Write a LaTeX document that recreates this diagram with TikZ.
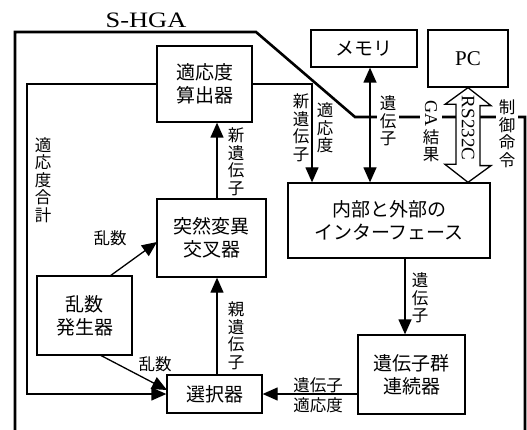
\documentclass[tikz,border=0pt]{standalone}
\usepackage{fontspec}
\setmainfont{Liberation Serif}
\newfontfamily\jp{Noto Sans CJK JP}
\usetikzlibrary{arrows.meta,calc}
\begin{document}
\begin{tikzpicture}[x=1pt,y=-1pt,
  box/.style={draw,line width=1.3pt,inner sep=0pt,align=center,font=\jp\fontsize{19}{23}\selectfont},
  lbl/.style={font=\jp\fontsize{16.5}{17.5}\selectfont,align=center,inner sep=1pt},
  wlbl/.style={lbl,fill=white,inner xsep=3pt,inner ysep=1pt},
  arr/.style={line width=1.3pt,-{Triangle[length=15pt,width=13pt]}},
  darr/.style={line width=1.3pt,{Triangle[length=15pt,width=13pt]}-{Triangle[length=15pt,width=13pt]}},
  border/.style={line width=2.6pt,line join=miter}]
\useasboundingbox[fill=white] (0,0) rectangle (527,430);

% outer border
\coordinate (b1) at (15,430);
\coordinate (b2) at (15,32);
\coordinate (b3) at (256,32);
\coordinate (b4) at (355,117);
\coordinate (b5) at (525,117);
\coordinate (b6) at (525,430);
\draw[border] (b1) -- (b2) -- (b3) -- (b4) -- (b5) -- (b6);
\node[font=\fontsize{22}{24}\selectfont] (title) at (146,20) {\scalebox{1.2}[1]{S-HGA}};

% boxes
\node[box,minimum width=95pt,minimum height=76pt] (fit) at (204.5,84) {適応度\\算出器};
\node[box,minimum width=106pt,minimum height=37pt] (mem) at (364,48.5) {メモリ};
\node[box,minimum width=80pt,minimum height=57pt,font=\fontsize{21}{23}\selectfont] (pc) at (468,58.5) {PC};
\node[box,minimum width=202pt,minimum height=75pt] (intf) at (389,220.5) {内部と外部の\\インターフェース};
\node[box,minimum width=109pt,minimum height=78pt] (mut) at (211.5,238) {突然変異\\交叉器};
\node[box,minimum width=95pt,minimum height=79pt] (rng) at (84.5,315.5) {乱数\\発生器};
\node[box,minimum width=95pt,minimum height=38pt] (sel) at (214.5,394) {選択器};
\node[box,minimum width=107pt,minimum height=79pt] (cat) at (411.5,374.5) {遺伝子群\\連続器};

% helper coordinates
\coordinate (xa) at (217,0);
\coordinate (xm) at (370,0);
\coordinate (xi) at (405,0);
\coordinate (xr) at (312,0);
\coordinate (xl) at (27,0);

% labels on the border line
\node[wlbl] (lgene1) at (388,121) {遺\\伝\\子};
\node[wlbl,inner xsep=3pt] (lga) at (431,131) {\rotatebox{-90}{\fontspec{Liberation Serif}\fontsize{18}{20}\selectfont GA}\\[2pt]結\\果};
\node[wlbl,inner xsep=2.5pt] (lctl) at (507,134) {制\\御\\命\\令};

% connectors
\draw[arr] (mut.north -| xa) -- (fit.south -| xa);
\draw[arr] (sel.north -| xa) -- (mut.south -| xa);
\draw[arr] (fit.east) -- (fit.east -| xr) -- (intf.north -| xr);
\draw[darr] (mem.south -| xm) -- (intf.north -| xm);
\draw[arr] (intf.south -| xi) -- (cat.north -| xi);
\draw[arr] (cat.west |- sel.east) -- (sel.east);
\draw[arr] (fit.west) -- (fit.west -| xl) -- (sel.west -| xl) -- (sel.west);
\coordinate (r1) at (110,276);
\coordinate (m1) at (157,242);
\draw[arr] (r1) -- (m1);
\coordinate (r2) at (100,355);
\coordinate (s2) at (167,390);
\draw[arr] (r2) -- (s2);

% hollow double arrow (RS232C)
\draw[line width=1.3pt,fill=white,line join=miter] (pc.south) -- ++(23,18) -- ++(-11,0) -- ++(0,60) -- ++(11,0)
  -- (intf.north -| pc.south) -- ++(-23,-18) -- ++(11,0) -- ++(0,-60) -- ++(-11,0) -- cycle;
\node[rotate=-90,font=\fontsize{19}{21}\selectfont,inner sep=0pt] (rs) at (468,128) {RS232C};

% other labels
\node[lbl] (lsum) at (43,180) {適\\応\\度\\合\\計};
\node[lbl] (lnew1) at (236,162) {新\\遺\\伝\\子};
\node[lbl] (lnew2) at (301,128) {新\\遺\\伝\\子};
\node[lbl] (lfit2) at (325,128) {適\\応\\度};
\node[lbl] (lrand1) at (110,238) {乱数};
\node[lbl] (lrand2) at (155,364) {乱数};
\node[lbl] (lpar) at (236,336) {親\\遺\\伝\\子};
\node[lbl] (lgene2) at (420,298) {遺\\伝\\子};
\node[lbl] (lgene3) at (318,385) {遺伝子};
\node[lbl] (lfit3) at (318,405) {適応度};
\end{tikzpicture}
\end{document}
